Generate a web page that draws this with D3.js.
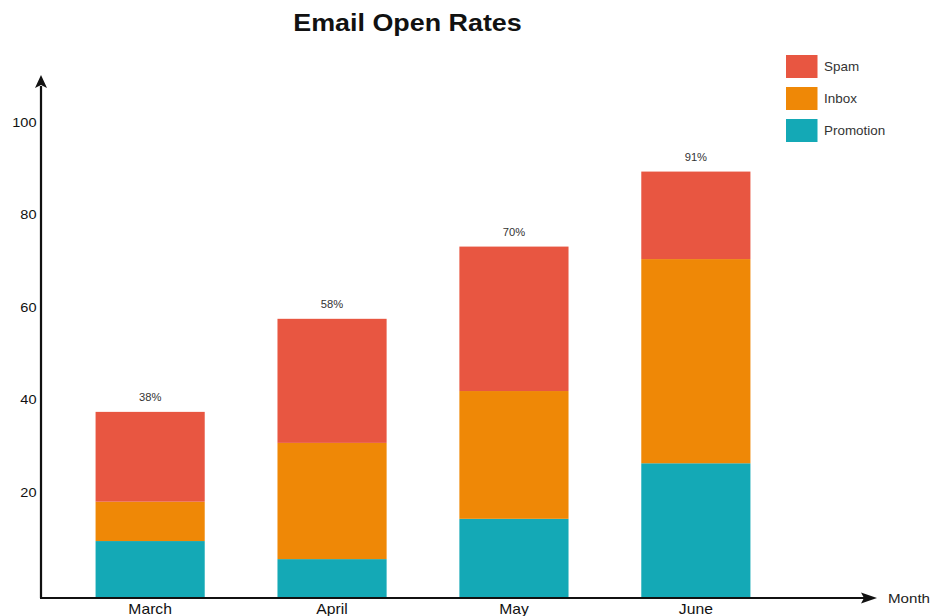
<!DOCTYPE html>
<html>
<head>
<meta charset="utf-8">
<script src="https://cdn.jsdelivr.net/npm/d3@7"></script>
<style>
body{margin:0;background:#fff;}
text{font-family:"Liberation Sans",Arial,sans-serif;}
</style>
</head>
<body>
<script>
var months = ["March", "April", "May", "June"];
var series = ["Promotion", "Inbox", "Spam"];
var promotion = [12.3, 8.4, 17.1, 29.1];
var inbox = [8.5, 25.1, 27.6, 44.1];
var spam = [19.4, 26.8, 31.2, 18.9];
var totalLabels = ["38%", "58%", "70%", "91%"];
var yTicks = [20, 40, 60, 80, 100];
var legendOrder = ["Spam", "Inbox", "Promotion"];
var colors = {Spam: "#e85641", Inbox: "#ef8806", Promotion: "#14a9b6"};

var width = 934, height = 616;
// the picture is slightly stretched sideways, so stretch the whole svg the same way
var k = 1.12;
var vw = width / k;

var svg = d3.select("body").append("svg")
  .attr("width", width)
  .attr("height", height)
  .attr("viewBox", "0 0 " + vw + " " + height)
  .attr("preserveAspectRatio", "none");

var rows = months.map(function(m, i){
  return {month: m, Promotion: promotion[i], Inbox: inbox[i], Spam: spam[i]};
});
var stacked = d3.stack().keys(series)(rows);

var x = d3.scaleBand()
  .domain(months)
  .range([41 / k, 805 / k])
  .paddingInner(0.4)
  .paddingOuter(0.3);
var y = d3.scaleLinear()
  .domain([0, 100])
  .range([598, 135]);

// title
svg.append("text")
  .attr("x", 407.5 / k)
  .attr("y", 31)
  .attr("text-anchor", "middle")
  .attr("font-size", 24)
  .attr("font-weight", "bold")
  .attr("fill", "#111")
  .text("Email Open Rates");

// bars
svg.append("g").selectAll("g")
  .data(stacked)
  .enter().append("g")
    .attr("fill", function(d){ return colors[d.key]; })
  .selectAll("rect")
  .data(function(d){ return d; })
  .enter().append("rect")
    .attr("x", function(d){ return x(d.data.month); })
    .attr("width", x.bandwidth())
    .attr("y", function(d){ return y(d[1]); })
    .attr("height", function(d){ return y(d[0]) - y(d[1]); });

// total labels on top
var topLayer = stacked[stacked.length - 1];
svg.append("g").selectAll("text")
  .data(topLayer)
  .enter().append("text")
    .attr("x", function(d){ return x(d.data.month) + x.bandwidth() / 2; })
    .attr("y", function(d){ return y(d[1]) - 14; })
    .attr("dy", "0.35em")
    .attr("text-anchor", "middle")
    .attr("font-size", 10)
    .attr("fill", "#333")
    .text(function(d, i){ return totalLabels[i]; });

// y axis labels
var yAxis = d3.axisLeft(y).tickValues(yTicks).tickSize(0).tickPadding(4.5 / k);
var yg = svg.append("g").attr("transform", "translate(" + (41 / k) + ",0)").call(yAxis);
yg.select(".domain").remove();
yg.selectAll(".tick text")
  .attr("y", -13)
  .attr("font-size", 13)
  .attr("font-family", null)
  .attr("fill", "#111");

// x axis labels
var xAxis = d3.axisBottom(x).tickSize(0).tickPadding(6);
var xg = svg.append("g").attr("transform", "translate(0,598)").call(xAxis);
xg.select(".domain").remove();
xg.selectAll(".tick text")
  .attr("font-size", 14)
  .attr("font-family", null)
  .attr("fill", "#111");

// axis lines with arrows
var axisColor = "#111";
svg.append("line")
  .attr("x1", 41 / k).attr("y1", 598)
  .attr("x2", 41 / k).attr("y2", 86)
  .attr("stroke", axisColor).attr("stroke-width", 2);
svg.append("path")
  .attr("d", "M" + (41 / k) + ",75 L" + (47 / k) + ",88 L" + (41 / k) + ",85 L" + (35 / k) + ",88 Z")
  .attr("fill", axisColor);
svg.append("line")
  .attr("x1", 40 / k).attr("y1", 598)
  .attr("x2", 866 / k).attr("y2", 598)
  .attr("stroke", axisColor).attr("stroke-width", 2);
svg.append("path")
  .attr("d", "M" + (877 / k) + ",598 L" + (861 / k) + ",592.5 L" + (864 / k) + ",598 L" + (861 / k) + ",603.5 Z")
  .attr("fill", axisColor);

svg.append("text")
  .attr("x", 888 / k)
  .attr("y", 598)
  .attr("dy", "0.35em")
  .attr("font-size", 13.5)
  .attr("fill", "#222")
  .text("Month");

// legend
var legend = svg.append("g").selectAll("g")
  .data(legendOrder)
  .enter().append("g")
    .attr("transform", function(d, i){ return "translate(0," + (i * 32) + ")"; });
legend.append("rect")
  .attr("x", 786 / k)
  .attr("y", 55)
  .attr("width", 31.5 / k)
  .attr("height", 23)
  .attr("fill", function(d){ return colors[d]; });
legend.append("text")
  .attr("x", 824 / k)
  .attr("y", 66.7)
  .attr("dy", "0.35em")
  .attr("font-size", 12)
  .attr("fill", "#333")
  .text(function(d){ return d; });
</script>
</body>
</html>
